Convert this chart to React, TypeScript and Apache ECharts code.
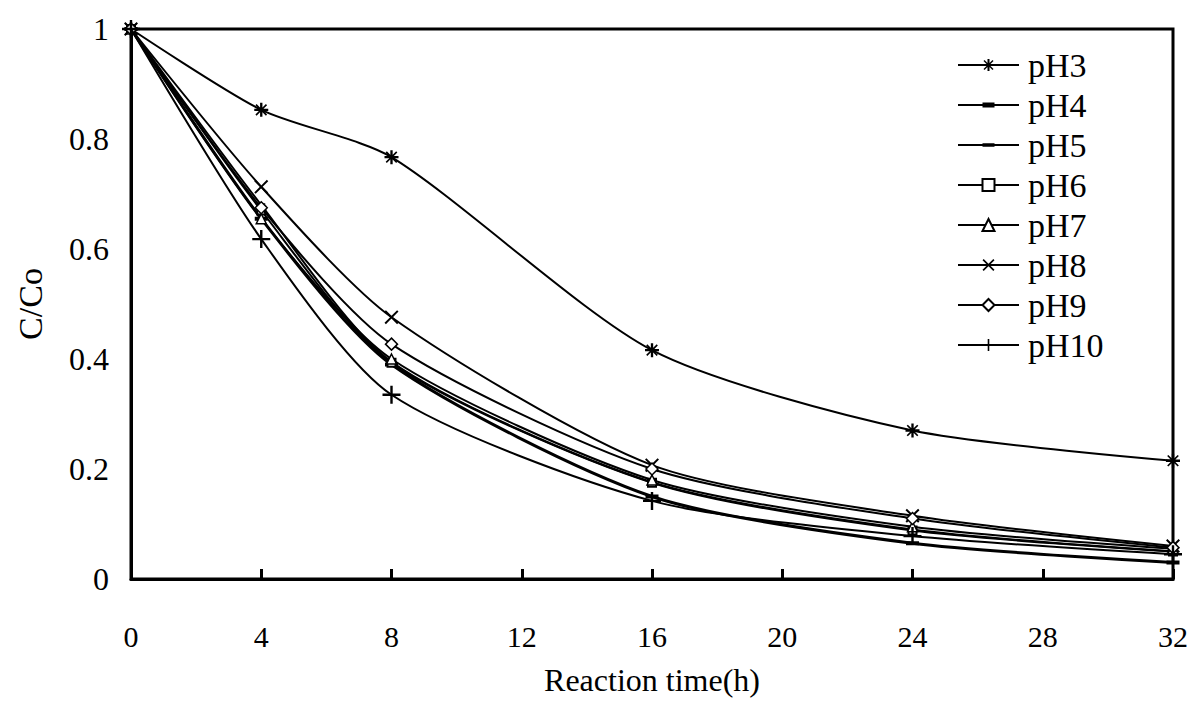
import React, { useEffect, useRef } from "react";
import * as echarts from "echarts";

const times = [0, 4, 8, 16, 24, 32];
const xTicks = [0, 4, 8, 12, 16, 20, 24, 28, 32];
const yTicks = [0, 0.2, 0.4, 0.6, 0.8, 1];

const seriesNames = ["pH3", "pH4", "pH5", "pH6", "pH7", "pH8", "pH9", "pH10"];
const pH3 = [1, 0.853, 0.767, 0.416, 0.27, 0.215];
const pH4 = [1, 0.68, 0.395, 0.176, 0.09, 0.05];
const pH5 = [1, 0.655, 0.39, 0.15, 0.065, 0.03];
const pH6 = [1, 0.67, 0.393, 0.175, 0.088, 0.05];
const pH7 = [1, 0.655, 0.4, 0.18, 0.095, 0.055];
const pH8 = [1, 0.713, 0.476, 0.207, 0.115, 0.06];
const pH9 = [1, 0.675, 0.427, 0.2, 0.11, 0.057];
const pH10 = [1, 0.618, 0.335, 0.142, 0.078, 0.045];
const seriesValues = [pH3, pH4, pH5, pH6, pH7, pH8, pH9, pH10];

const FONT = "'Liberation Serif', 'Times New Roman', serif";

const STAR =
  "path://M-1,-6H1V-1H6V1H1V6H-1V1H-6V-1H-1Z M-5,-4L-4,-5L0,-1L4,-5L5,-4L1,0L5,4L4,5L0,1L-4,5L-5,4L-1,0Z";
const XMARK = "path://M-5,-4L-4,-5L0,-1L4,-5L5,-4L1,0L5,4L4,5L0,1L-4,5L-5,4L-1,0Z";
const PLUS = "path://M-0.8,-6H0.8V-0.8H6V0.8H0.8V6H-0.8V0.8H-6V-0.8H-0.8Z";
const DASH_S = "path://M-4,-1.7H4V1.7H-4Z M-4,-4L-3.99,-4Z M4,4L3.99,4Z";
const DASH_L = "path://M-6.5,-2H6.5V2H-6.5Z M-6.5,-6.5L-6.49,-6.5Z M6.5,6.5L6.49,6.5Z";

const markerStyles: any[] = [
  { symbol: STAR, symbolSize: 14, fill: "#000", border: 0 },
  { symbol: DASH_S, symbolSize: 8, fill: "#000", border: 0 },
  { symbol: DASH_L, symbolSize: 13, fill: "#000", border: 0 },
  { symbol: "rect", symbolSize: 8, fill: "#fff", border: 2 },
  { symbol: "triangle", symbolSize: 10, fill: "#fff", border: 1.5 },
  { symbol: XMARK, symbolSize: 14, fill: "#000", border: 0 },
  { symbol: "diamond", symbolSize: 12, fill: "#fff", border: 1.5 },
  { symbol: PLUS, symbolSize: 18, fill: "#000", border: 0 },
];
const lineWidths = [2, 2, 3, 2, 2, 2, 2, 2];

export default function App() {
  const ref = useRef<HTMLDivElement>(null);
  useEffect(() => {
    if (!ref.current) return;
    const chart = echarts.init(ref.current, null, { renderer: "svg" });
    const series = seriesNames.map((name, i) => ({
      name,
      type: "line",
      data: times.map((t, j) => [t, seriesValues[i][j]]),
      smooth: 0.25,
      symbol: markerStyles[i].symbol,
      symbolSize: markerStyles[i].symbolSize,
      symbolKeepAspect: true,
      showAllSymbol: true,
      lineStyle: { color: "#000", width: lineWidths[i] },
      itemStyle: {
        color: markerStyles[i].fill,
        borderColor: "#000",
        borderWidth: markerStyles[i].border,
      },
      z: 3 + i,
    }));
    chart.setOption({
      animation: false,
      backgroundColor: "#fff",
      textStyle: { fontFamily: FONT },
      grid: {
        left: 131,
        right: 27,
        top: 29,
        bottom: 127,
        show: true,
        borderColor: "#000",
        borderWidth: 3,
      },
      legend: {
        orient: "vertical",
        left: 957,
        top: 48,
        padding: 0,
        itemWidth: 61,
        itemHeight: 15,
        itemGap: 6,
        data: seriesNames,
        textStyle: {
          fontFamily: FONT,
          fontSize: 34,
          color: "#000",
          lineHeight: 34,
          padding: [0, 0, 0, 4],
        },
      },
      xAxis: {
        type: "value",
        min: 0,
        max: 32,
        interval: 4,
        name: "Reaction time(h)",
        nameLocation: "middle",
        nameGap: 85,
        nameTextStyle: { fontFamily: FONT, fontSize: 32, color: "#000" },
        axisLine: { show: true, lineStyle: { color: "#000", width: 3 } },
        axisTick: { show: true, inside: true, length: 10, lineStyle: { color: "#000", width: 3 } },
        axisLabel: {
          fontFamily: FONT,
          fontSize: 30,
          color: "#000",
          margin: 42,
          formatter: (v: number) => (xTicks.includes(v) ? String(v) : ""),
        },
        splitLine: { show: false },
      },
      yAxis: {
        type: "value",
        min: 0,
        max: 1,
        interval: 0.2,
        name: "C/Co",
        nameLocation: "middle",
        nameGap: 84,
        nameRotate: 90,
        nameTextStyle: { fontFamily: FONT, fontSize: 34, color: "#000" },
        axisLine: { show: true, lineStyle: { color: "#000", width: 3 } },
        axisTick: { show: false },
        axisLabel: {
          fontFamily: FONT,
          fontSize: 32,
          color: "#000",
          margin: 22,
          formatter: (v: number) => {
            const t = yTicks.find((y) => Math.abs(y - v) < 1e-6);
            return t === undefined ? "" : String(Math.round(t * 10) / 10);
          },
        },
        splitLine: { show: false },
      },
      series,
    });
    return () => chart.dispose();
  }, []);
  return <div ref={ref} style={{ width: 1200, height: 706, position: "absolute", left: 0, top: 0 }} />;
}
